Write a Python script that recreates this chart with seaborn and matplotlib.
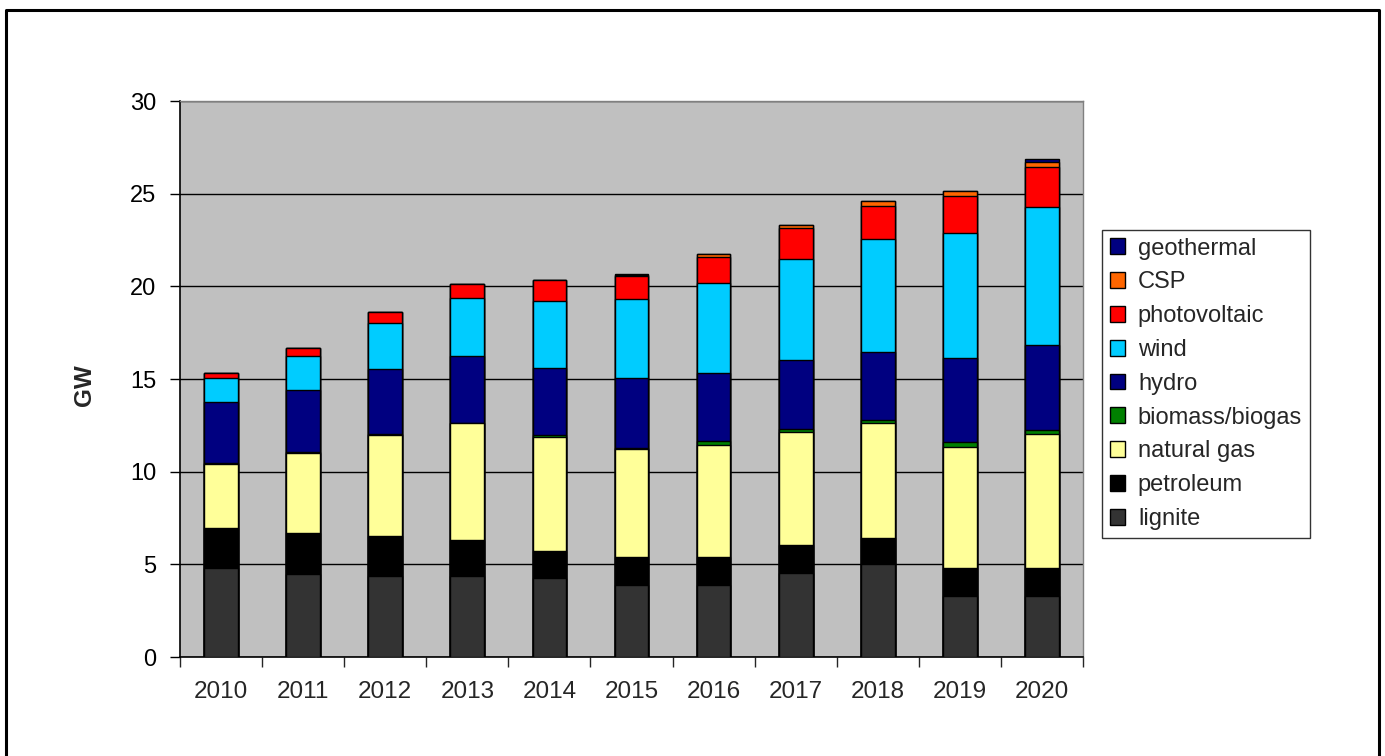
import numpy as np
import pandas as pd
import matplotlib
matplotlib.use("Agg")
import matplotlib.pyplot as plt
import matplotlib.patches as mpatches
from matplotlib.lines import Line2D
import seaborn as sns

# -------- data (GW) --------
years = ["2010", "2011", "2012", "2013", "2014", "2015",
         "2016", "2017", "2018", "2019", "2020"]

lignite = [4.8, 4.5, 4.35, 4.35, 4.25, 3.9, 3.9, 4.55, 5.0, 3.3, 3.3]
petroleum = [2.15, 2.2, 2.2, 1.95, 1.45, 1.5, 1.5, 1.5, 1.4, 1.5, 1.5]
natural_gas = [3.45, 4.3, 5.45, 6.3, 6.15, 5.85, 6.05, 6.1, 6.2, 6.55, 7.25]
biomass = [0.05, 0.05, 0.05, 0.05, 0.15, 0.05, 0.2, 0.15, 0.2, 0.25, 0.2]
hydro = [3.3, 3.35, 3.5, 3.6, 3.6, 3.75, 3.7, 3.7, 3.65, 4.55, 4.6]
wind = [1.3, 1.85, 2.45, 3.1, 3.6, 4.25, 4.85, 5.5, 6.1, 6.75, 7.45]
photovoltaic = [0.25, 0.4, 0.6, 0.8, 1.15, 1.25, 1.4, 1.65, 1.8, 2.0, 2.15]
csp = [0.0, 0.0, 0.0, 0.0, 0.0, 0.05, 0.15, 0.15, 0.25, 0.25, 0.25]
geothermal = [0.0, 0.0, 0.0, 0.0, 0.0, 0.05, 0.0, 0.0, 0.0, 0.0, 0.15]

series_names = ["lignite", "petroleum", "natural gas", "biomass/biogas", "hydro",
                "wind", "photovoltaic", "CSP", "geothermal"]
series_values = [lignite, petroleum, natural_gas, biomass, hydro,
                 wind, photovoltaic, csp, geothermal]
series_colors = ["#333333", "#000000", "#FFFF99", "#008000", "#000080",
                 "#00CCFF", "#FF0000", "#FF6600", "#000080"]

df = pd.DataFrame(dict(zip(series_names, series_values)), index=years)
cum = df.cumsum(axis=1)

sns.set_style("white")
plt.rcParams["font.family"] = ["Liberation Sans", "DejaVu Sans"]

fig = plt.figure(figsize=(13.85, 7.56), dpi=100)
ax = fig.add_axes([180 / 1385, 1 - 657 / 756, (1083 - 180) / 1385, (657 - 101) / 756])
ax.set_facecolor("#C0C0C0")

# stacked bars: draw cumulative totals from the top layer down
for name, color in reversed(list(zip(series_names, series_colors))):
    sns.barplot(x=years, y=cum[name].values, color=color, width=0.41,
                edgecolor="black", linewidth=1.0, saturation=1, ax=ax, zorder=3)

ax.set_ylim(0, 30)
ax.set_xlim(-0.5, len(years) - 0.5)
ax.set_yticks(range(0, 31, 5))
ax.yaxis.grid(True, color="black", linewidth=1.0, zorder=0)
ax.set_axisbelow(True)

ax.tick_params(axis="y", direction="out", length=7, width=1, colors="black",
               labelsize=17, left=True, pad=10)
ax.tick_params(axis="x", which="major", length=0, labelsize=17.5, pad=17)
ax.set_xticks(np.arange(-0.5, len(years)), minor=True)
ax.tick_params(axis="x", which="minor", direction="out", length=7, width=1, bottom=True)

for side in ["left", "bottom"]:
    ax.spines[side].set_color("black")
    ax.spines[side].set_linewidth(1.2)
for side in ["top", "right"]:
    ax.spines[side].set_color("#808080")
    ax.spines[side].set_linewidth(1.0)

ax.set_xlabel("")
ax.set_ylabel("GW", fontsize=17.5, fontweight="bold")
ax.yaxis.set_label_coords((96 - 180) / 903, (657 - 385) / 556)

# legend (top layer first)
handles = [mpatches.Patch(facecolor=c, edgecolor="black", linewidth=1.0, label=n)
           for n, c in reversed(list(zip(series_names, series_colors)))]
leg = fig.legend(handles=handles, loc="upper left",
                 bbox_to_anchor=(1102 / 1385, 1 - 230 / 756),
                 frameon=True, fancybox=False, fontsize=17,
                 handlelength=0.65, handleheight=0.65, handletextpad=0.55,
                 labelspacing=0.5, borderpad=0.32, borderaxespad=0)
leg.get_frame().set_edgecolor("black")
leg.get_frame().set_linewidth(1.0)

# outer frame (open at the bottom)
x0, x1, y_top = 6 / 1385, 1379 / 1385, 1 - 10 / 756
fig.lines.append(Line2D([x0, x0, x1, x1], [0, y_top, y_top, 0],
                        transform=fig.transFigure, color="black", linewidth=2.2))

fig.savefig("out.png", dpi=100)
